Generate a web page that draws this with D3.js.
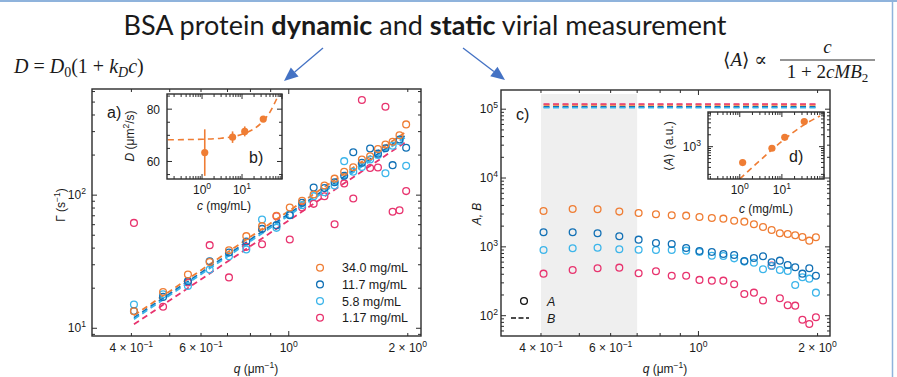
<!DOCTYPE html>
<html>
<head>
<meta charset="utf-8">
<script src="https://cdn.jsdelivr.net/npm/d3@7"></script>
<style>
body { margin: 0; background: #fff; }
svg { display: block; }
text { font-family: "Liberation Sans", Arial, sans-serif; fill: #1a1a1a; }
.serif { font-family: "Liberation Serif", "DejaVu Serif", serif; }
</style>
</head>
<body>
<svg id="fig" width="897" height="377"></svg>
<script>
// ---- data ----
const qValues = [0.406, 0.481, 0.556, 0.631, 0.706, 0.781, 0.856, 0.931, 1.006, 1.081, 1.156,
    1.231, 1.306, 1.381, 1.456, 1.531, 1.606, 1.681, 1.756, 1.831, 1.906, 1.981]
const concLabels = ["34.0 mg/mL", "11.7 mg/mL", "5.8 mg/mL", "1.17 mg/mL"]
const seriesColors = ["#ef7d34", "#1170b5", "#3cb5ea", "#e8336e"]

// a) decay rate Gamma (s^-1)
const gamma34 = [13.4, 18.7, 25.3, 31.5, 38.6, 49.2, 58.5, 69.9, 80.8, 90.6, 101, 118, 133, 150, 162, 185, 196, 222, 240, 252, 282, 340]
const gamma117 = [13.5, 17.2, 22.6, 31.9, 37.1, 44.9, 55.8, 59.5, 70.7, 87.5, 114, 113, 125, 140, 210, 175, 224, 205, 225, 168, 262, 227]
const gamma58 = [15.1, 18.0, 20.8, 27.6, 34.8, 39.1, 65.7, 56.8, 71.6, 84.1, 98.3, 105, 118, 180, 150, 163, 185, 200, 146, 235, 255, 166]
const gamma1 = [61.9, 14.5, 22.1, 42.1, 24.1, 40.9, 42.8, 69.5, 46.4, 80.8, 86, 98, 60.5, 122.5, 94.4, 518, 160, 161.5, 461, 75, 77.1, 107.2]
// dashed fits in a): value at first and last q
const fitQ = [0.406, 1.981]
const fitGammaStart = [12.5, 12.0, 11.7, 10.7]
const fitGammaEnd = [299, 283, 274, 252]

// insets: concentrations from low to high
const insetConc = [1.17, 5.8, 11.7, 34.0]

// b) diffusion coefficient vs concentration
const diffD = [63.4, 69.3, 71.5, 76.2]
const diffErr = [8.9, 2.2, 1.9, 1.0]
const fitDc = [0.14, 1, 3, 10, 20, 34, 50, 75]
const fitD = [68.3, 68.5, 68.9, 70.4, 72.5, 75.5, 78.9, 84.2]

// c) amplitudes A (circles) and B (dashed)
const ampA34 = [3325, 3556, 3520, 3250, 3110, 2980, 2880, 2840, 2720, 2630, 2570, 2400, 2325, 2130, 1945, 1760, 1578, 1540, 1475, 1393, 1230, 1380]
const ampA117 = [1630, 1630, 1577, 1426, 1273, 1140, 1102, 964, 872, 843, 789, 763, 624, 690, 730, 597, 630, 546, 505, 408, 489, 381]
const ampA58 = [901, 954, 973, 923, 910, 901, 901, 881, 843, 742, 738, 681, 611, 589, 472, 528, 462, 447, 279, 361, 345, 216]
const ampA1 = [408, 461, 489, 499, 413, 442, 381, 381, 331, 323, 323, 286, 207, 216, 166, 533, 179, 142, 140, 87.5, 75.7, 95]
const ampB = [1.15e5, 1.08e5, 1.05e5, 1.19e5]
const shadedQ = [0.4, 0.7]

// d) mean amplitude vs concentration
const meanA = [398, 912, 1718, 4315]
const fitAc = [1, 3, 10, 30, 80]
const fitA = [153, 447, 1365, 3305, 5944]

const qTickLabels = [
    { v: 0.4, m: "4", e: "−1" }, { v: 0.6, m: "6", e: "−1" },
    { v: 1, m: "", e: "0" }, { v: 2, m: "2", e: "0" }
]

const svg = d3.select("#fig")
const axisColor = "#2b2b2b"
const fs = 12

// page frame
svg.append("line").attr("x1", 0).attr("x2", 897).attr("y1", 1).attr("y2", 1)
    .attr("stroke", "#8fb3dc").attr("stroke-width", 2)
svg.append("line").attr("x1", 892.5).attr("x2", 892.5).attr("y1", 0).attr("y2", 377)
    .attr("stroke", "#8fb3dc").attr("stroke-width", 1.5)

// "10^n" style label
function sciLabel(g, x, y, mant, exp, anchor, size) {
    const t = g.append("text").attr("x", x).attr("y", y)
        .attr("text-anchor", anchor).attr("font-size", size)
    t.append("tspan").text((mant ? mant + " × " : "") + "10")
    t.append("tspan").attr("dy", -size * 0.42).attr("font-size", size * 0.72).text(exp)
    return t
}

const isDecade = (v) => Math.abs(Math.log10(v) - Math.round(Math.log10(v))) < 1e-6

// box frame with inward ticks on all four sides
function boxAxes(g, x, y, xTicks, yTicks, xMajor, yMajor) {
    const [x0, x1] = x.range()
    const [y0, y1] = y.range()
    g.append("rect").attr("x", x0).attr("y", y1).attr("width", x1 - x0).attr("height", y0 - y1)
        .attr("fill", "none").attr("stroke", axisColor).attr("stroke-width", 1.4)
    const t = g.append("g").attr("stroke", axisColor).attr("stroke-width", 1)
    xTicks.forEach((v) => {
        const px = x(v)
        const L = xMajor(v) ? 5 : 3
        t.append("line").attr("x1", px).attr("x2", px).attr("y1", y0).attr("y2", y0 - L)
        t.append("line").attr("x1", px).attr("x2", px).attr("y1", y1).attr("y2", y1 + L)
    })
    yTicks.forEach((v) => {
        const py = y(v)
        const L = yMajor(v) ? 5 : 3
        t.append("line").attr("x1", x0).attr("x2", x0 + L).attr("y1", py).attr("y2", py)
        t.append("line").attr("x1", x1).attr("x2", x1 - L).attr("y1", py).attr("y2", py)
    })
}

function qAxisLabels(g, x, yBase) {
    qTickLabels.forEach((d) => sciLabel(g, x(d.v), yBase, d.m, d.e, "middle", fs))
}

function qTitle(g, cx) {
    const t = g.append("text").attr("x", cx).attr("y", 373).attr("text-anchor", "middle").attr("font-size", fs)
    t.append("tspan").attr("font-style", "italic").text("q")
    t.append("tspan").text(" (μm")
    t.append("tspan").attr("dy", -5).attr("font-size", 8.5).text("−1")
    t.append("tspan").attr("dy", 5).text(")")
}

function circles(g, xs, ys, x, y, color, r) {
    g.selectAll(null).data(xs.map((q, i) => [q, ys[i]])).enter().append("circle")
        .attr("cx", (d) => x(d[0])).attr("cy", (d) => y(d[1])).attr("r", r)
        .attr("fill", "none").attr("stroke", color).attr("stroke-width", 1.3)
}

// ================= panel a =================
const xA = d3.scaleLog().domain([0.318, 2.16]).range([92, 421])
const yA = d3.scaleLog().domain([8.75, 627]).range([336, 89])
const gA = svg.append("g")
const gammaSeries = [gamma34, gamma117, gamma58, gamma1]

const fitLine = d3.line().x((d) => xA(d[0])).y((d) => yA(d[1]))
gammaSeries.forEach((s, i) => {
    gA.append("path")
        .datum([[fitQ[0], fitGammaStart[i]], [fitQ[1], fitGammaEnd[i]]])
        .attr("d", fitLine).attr("fill", "none")
        .attr("stroke", seriesColors[i]).attr("stroke-width", 1.8).attr("stroke-dasharray", "6,4")
})
for (let i = gammaSeries.length - 1; i >= 0; i--) {
    circles(gA, qValues, gammaSeries[i], xA, yA, seriesColors[i], 3.4)
}

boxAxes(gA, xA, yA, xA.ticks(), yA.ticks(), isDecade, isDecade)
qAxisLabels(gA, xA, 352)
sciLabel(gA, 86, 199, "", "2", "end", fs)
sciLabel(gA, 86, 332, "", "1", "end", fs)
qTitle(gA, 256)

const yLabA = gA.append("text").attr("transform", "translate(65,205) rotate(-90)")
    .attr("text-anchor", "middle").attr("font-size", fs)
yLabA.append("tspan").text("Γ (s")
yLabA.append("tspan").attr("dy", -5).attr("font-size", 8.5).text("−1")
yLabA.append("tspan").attr("dy", 5).text(")")

gA.append("text").attr("x", 107).attr("y", 118).attr("font-size", 16).text("a)")

// legend
const legA = gA.append("g")
concLabels.forEach((lab, i) => {
    const ly = 267.7 + i * 16.7
    legA.append("circle").attr("cx", 320).attr("cy", ly).attr("r", 3.4)
        .attr("fill", "none").attr("stroke", seriesColors[i]).attr("stroke-width", 1.3)
    legA.append("text").attr("x", 342).attr("y", ly + 4.5).attr("font-size", 12.5).text(lab)
})

// ---------- inset b ----------
const xB = d3.scaleLog().domain([0.133, 100]).range([167, 282])
const yB = d3.scaleLinear().domain([53.3, 85.8]).range([179, 94])
const gB = svg.append("g")
gB.append("rect").attr("x", 167).attr("y", 94).attr("width", 115).attr("height", 85).attr("fill", "#fff")
const orange = seriesColors[0]
gB.append("path").datum(fitDc.map((c, i) => [c, fitD[i]]))
    .attr("d", d3.line().curve(d3.curveMonotoneX).x((d) => xB(d[0])).y((d) => yB(d[1])))
    .attr("fill", "none").attr("stroke", orange).attr("stroke-width", 1.6).attr("stroke-dasharray", "6,4")
insetConc.forEach((c, i) => {
    gB.append("line").attr("x1", xB(c)).attr("x2", xB(c))
        .attr("y1", yB(diffD[i] - diffErr[i])).attr("y2", yB(diffD[i] + diffErr[i]))
        .attr("stroke", orange).attr("stroke-width", 1.6)
    gB.append("circle").attr("cx", xB(c)).attr("cy", yB(diffD[i])).attr("r", 3.6).attr("fill", orange)
})
boxAxes(gB, xB, yB, xB.ticks(), [55, 60, 65, 70, 75, 80, 85], isDecade, (v) => v % 20 === 0)
gB.append("text").attr("x", 160).attr("y", yB(80) + 4.5).attr("text-anchor", "end").attr("font-size", fs).text("80")
gB.append("text").attr("x", 160).attr("y", yB(60) + 4.5).attr("text-anchor", "end").attr("font-size", fs).text("60")
sciLabel(gB, xB(1), 194, "", "0", "middle", fs)
sciLabel(gB, xB(10), 194, "", "1", "middle", fs)
const xLabB = gB.append("text").attr("x", 224).attr("y", 210).attr("text-anchor", "middle").attr("font-size", fs)
xLabB.append("tspan").attr("font-style", "italic").text("c")
xLabB.append("tspan").text(" (mg/mL)")
const yLabB = gB.append("text").attr("transform", "translate(134,136) rotate(-90)")
    .attr("text-anchor", "middle").attr("font-size", fs)
yLabB.append("tspan").attr("font-style", "italic").text("D")
yLabB.append("tspan").text(" (μm")
yLabB.append("tspan").attr("dy", -5).attr("font-size", 8.5).text("2")
yLabB.append("tspan").attr("dy", 5).text("/s)")
gB.append("text").attr("x", 249).attr("y", 163).attr("font-size", 16).text("b)")

// ================= panel c =================
const xC = d3.scaleLog().domain([0.317, 2.15]).range([501, 830])
const yC = d3.scaleLog().domain([50.7, 1.9e5]).range([336, 90])
const gC = svg.append("g")
gC.append("rect").attr("x", xC(shadedQ[0])).attr("y", 94)
    .attr("width", xC(shadedQ[1]) - xC(shadedQ[0])).attr("height", 336 - 94).attr("fill", "#efefef")

const bOrder = [0, 3, 1, 2]
bOrder.forEach((i) => {
    gC.append("line").attr("x1", xC(qValues[0])).attr("x2", xC(qValues[qValues.length - 1]))
        .attr("y1", yC(ampB[i])).attr("y2", yC(ampB[i]))
        .attr("stroke", seriesColors[i]).attr("stroke-width", 1.6).attr("stroke-dasharray", "6,3.5")
})
const ampSeries = [ampA34, ampA117, ampA58, ampA1]
for (let i = ampSeries.length - 1; i >= 0; i--) {
    circles(gC, qValues, ampSeries[i], xC, yC, seriesColors[i], 3.4)
}
boxAxes(gC, xC, yC, xC.ticks(), yC.ticks(), isDecade, isDecade)
qAxisLabels(gC, xC, 352)
;[5, 4, 3, 2].forEach((e) => sciLabel(gC, 498, yC(Math.pow(10, e)) + 4, "", String(e), "end", fs))
qTitle(gC, 665)
gC.append("text").attr("transform", "translate(481,214) rotate(-90)").attr("text-anchor", "middle")
    .attr("font-size", fs).attr("font-style", "italic").text("A, B")
gC.append("text").attr("x", 516).attr("y", 120).attr("font-size", 16).text("c)")

// A / B key
gC.append("circle").attr("cx", 524).attr("cy", 301).attr("r", 3.4)
    .attr("fill", "none").attr("stroke", "#111").attr("stroke-width", 1.3)
gC.append("text").attr("x", 547).attr("y", 305.5).attr("font-size", 12.5).attr("font-style", "italic").text("A")
gC.append("line").attr("x1", 511).attr("x2", 529).attr("y1", 318).attr("y2", 318)
    .attr("stroke", "#111").attr("stroke-width", 1.6).attr("stroke-dasharray", "5,2.5")
gC.append("text").attr("x", 547).attr("y", 322.5).attr("font-size", 12.5).attr("font-style", "italic").text("B")

// ---------- inset d ----------
const xD = d3.scaleLog().domain([0.176, 100]).range([708, 824])
const yD = d3.scaleLog().domain([153, 7500]).range([179, 112])
const gD = svg.append("g")
gD.append("rect").attr("x", 708).attr("y", 112).attr("width", 116).attr("height", 67).attr("fill", "#fff")
gD.append("path").datum(fitAc.map((c, i) => [c, fitA[i]]))
    .attr("d", d3.line().curve(d3.curveMonotoneX).x((d) => xD(d[0])).y((d) => yD(d[1])))
    .attr("fill", "none").attr("stroke", orange).attr("stroke-width", 1.6).attr("stroke-dasharray", "6,4")
insetConc.forEach((c, i) => {
    gD.append("circle").attr("cx", xD(c)).attr("cy", yD(meanA[i])).attr("r", 3.6).attr("fill", orange)
})
boxAxes(gD, xD, yD, xD.ticks(), yD.ticks(), isDecade, isDecade)
sciLabel(gD, 701, yD(1000) + 4, "", "3", "end", fs)
sciLabel(gD, xD(1), 194, "", "0", "middle", fs)
sciLabel(gD, xD(10), 194, "", "1", "middle", fs)
const xLabD = gD.append("text").attr("x", 766).attr("y", 213).attr("text-anchor", "middle").attr("font-size", fs)
xLabD.append("tspan").attr("font-style", "italic").text("c")
xLabD.append("tspan").text(" (mg/mL)")
const yLabD = gD.append("text").attr("transform", "translate(673,146) rotate(-90)")
    .attr("text-anchor", "middle").attr("font-size", fs)
yLabD.append("tspan").text("⟨")
yLabD.append("tspan").attr("font-style", "italic").text("A")
yLabD.append("tspan").text("⟩ (a.u.)")
gD.append("text").attr("x", 789).attr("y", 162).attr("font-size", 16).text("d)")

// ================= title, arrows, equations =================
const title = svg.append("text").attr("x", 425).attr("y", 35).attr("text-anchor", "middle")
    .attr("font-size", 27).style("font-family", "Lato, 'Open Sans', sans-serif")
title.append("tspan").text("BSA protein ")
title.append("tspan").attr("font-weight", "bold").text("dynamic")
title.append("tspan").text(" and ")
title.append("tspan").attr("font-weight", "bold").text("static")
title.append("tspan").text(" virial measurement")

function arrow(x1, y1, x2, y2) {
    const ang = Math.atan2(y2 - y1, x2 - x1)
    const len = 14, half = 6
    const bx = x2 - len * Math.cos(ang), by = y2 - len * Math.sin(ang)
    svg.append("line").attr("x1", x1).attr("y1", y1).attr("x2", bx).attr("y2", by)
        .attr("stroke", "#4472c4").attr("stroke-width", 1.3)
    const px = -Math.sin(ang) * half, py = Math.cos(ang) * half
    svg.append("path")
        .attr("d", `M${x2},${y2}L${bx + px},${by + py}L${bx - px},${by - py}Z`)
        .attr("fill", "#4472c4")
}
arrow(323, 48, 284, 81)
arrow(463, 48, 505, 80)

const eqL = svg.append("text").attr("class", "serif").attr("x", 14).attr("y", 73).attr("font-size", 20)
eqL.append("tspan").attr("font-style", "italic").text("D")
eqL.append("tspan").text(" = ")
eqL.append("tspan").attr("font-style", "italic").text("D")
eqL.append("tspan").attr("dy", 4).attr("font-size", 14).text("0")
eqL.append("tspan").attr("dy", -4).text("(1 + ")
eqL.append("tspan").attr("font-style", "italic").text("k")
eqL.append("tspan").attr("dy", 4).attr("font-size", 14).attr("font-style", "italic").text("D")
eqL.append("tspan").attr("dy", -4).attr("font-style", "italic").text("c")
eqL.append("tspan").text(")")

const eqR = svg.append("g")
const lhs = eqR.append("text").attr("class", "serif").attr("x", 723).attr("y", 66).attr("font-size", 19)
lhs.append("tspan").text("⟨")
lhs.append("tspan").attr("font-style", "italic").text("A")
lhs.append("tspan").text("⟩ ∝")
eqR.append("line").attr("x1", 780).attr("x2", 875).attr("y1", 60).attr("y2", 60)
    .attr("stroke", "#111").attr("stroke-width", 0.9)
eqR.append("text").attr("class", "serif").attr("x", 827.5).attr("y", 53).attr("text-anchor", "middle")
    .attr("font-size", 19).attr("font-style", "italic").text("c")
const den = eqR.append("text").attr("class", "serif").attr("x", 827.5).attr("y", 78)
    .attr("text-anchor", "middle").attr("font-size", 19)
den.append("tspan").text("1 + 2")
den.append("tspan").attr("font-style", "italic").text("cMB")
den.append("tspan").attr("dy", 4).attr("font-size", 13).text("2")
</script>
</body>
</html>
